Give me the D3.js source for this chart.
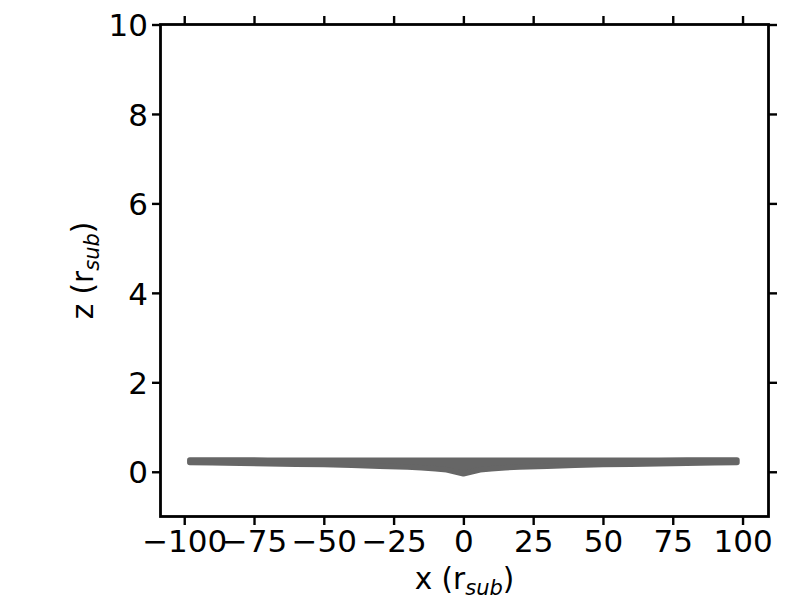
<!DOCTYPE html>
<html><head><meta charset="utf-8">
<script src="https://cdn.jsdelivr.net/npm/d3@7"></script>
<style>body{margin:0;background:#fff}svg{display:block}text{font-family:"DejaVu Sans",sans-serif}</style>
</head><body>
<svg id="c" width="800" height="600"></svg>
<script>
// Disk profile: x positions and upper / lower z of the point band
const xs     = [-98,-90,-80,-70,-60,-50,-40,-30,-20,-15,-10,-6,-3,0,3,6,10,15,20,30,40,50,60,70,80,90,98];
const zUpper = [0.265,0.265,0.265,0.26,0.26,0.255,0.255,0.255,0.255,0.255,0.255,0.255,0.255,0.255,0.255,0.255,0.255,0.255,0.255,0.255,0.255,0.26,0.26,0.26,0.265,0.265,0.265];
const zLower = [0.205,0.2,0.19,0.18,0.17,0.16,0.145,0.125,0.105,0.09,0.07,0.045,0.0,-0.045,0.0,0.045,0.07,0.09,0.105,0.125,0.145,0.16,0.17,0.18,0.19,0.2,0.205];
const xTicks = [-100,-75,-50,-25,0,25,50,75,100];
const yTicks = [0,2,4,6,8,10];

const L=160.5,R=768.5,T=24.5,B=516.5;
const x=d3.scaleLinear().domain([-108.5,109.3]).range([L,R]);
const y=d3.scaleLinear().domain([-1,10]).range([B,T]);
const svg=d3.select("#c");
const col="#666666";

const data=xs.map((v,i)=>({x:v,u:zUpper[i],l:zLower[i]}));
svg.append("path").datum(data)
  .attr("d",d3.area().x(d=>x(d.x)).y0(d=>y(d.l)).y1(d=>y(d.u)))
  .attr("fill",col).attr("stroke",col).attr("stroke-width",5.5).attr("stroke-linejoin","round").attr("stroke-linecap","round");

const fmt=d=>d<0?"\u2212"+Math.abs(d):String(d);
const tl=8.5, fs="31px", sfs="22px";
const axB=svg.append("g").attr("transform",`translate(0,${B})`).call(d3.axisBottom(x).tickValues(xTicks).tickSize(tl).tickPadding(5).tickFormat(fmt));
const axT=svg.append("g").attr("transform",`translate(0,${T})`).call(d3.axisTop(x).tickValues(xTicks).tickSize(tl).tickFormat(""));
const axL=svg.append("g").attr("transform",`translate(${L},0)`).call(d3.axisLeft(y).tickValues(yTicks).tickSize(tl).tickPadding(4).tickFormat(fmt));
const axR=svg.append("g").attr("transform",`translate(${R},0)`).call(d3.axisRight(y).tickValues(yTicks).tickSize(tl).tickFormat(""));
[axB,axT,axL,axR].forEach(a=>{
  a.select(".domain").remove();
  a.selectAll(".tick line").attr("stroke","#000").attr("stroke-width",2.4);
  a.selectAll("text").attr("font-size",fs).attr("fill","#000").attr("font-family","DejaVu Sans");
});
axL.selectAll("text").attr("dy","0.36em");

svg.append("rect").attr("x",L).attr("y",T).attr("width",R-L).attr("height",B-T)
  .attr("fill","none").attr("stroke","#000").attr("stroke-width",2.8);

const xl=svg.append("text").attr("x",(L+R)/2).attr("y",589).attr("text-anchor","middle").attr("font-size","29.5px");
xl.append("tspan").text("x (r");
xl.append("tspan").attr("font-style","italic").attr("font-size","21px").attr("dy","6").text("sub");
xl.append("tspan").attr("dy","-6").text(")");

const yl=svg.append("text").attr("transform",`translate(93,${(T+B)/2}) rotate(-90)`).attr("text-anchor","middle").attr("font-size","29.5px");
yl.append("tspan").text("z (r");
yl.append("tspan").attr("font-style","italic").attr("font-size","21px").attr("dy","6").text("sub");
yl.append("tspan").attr("dy","-6").text(")");
</script>
</body></html>
